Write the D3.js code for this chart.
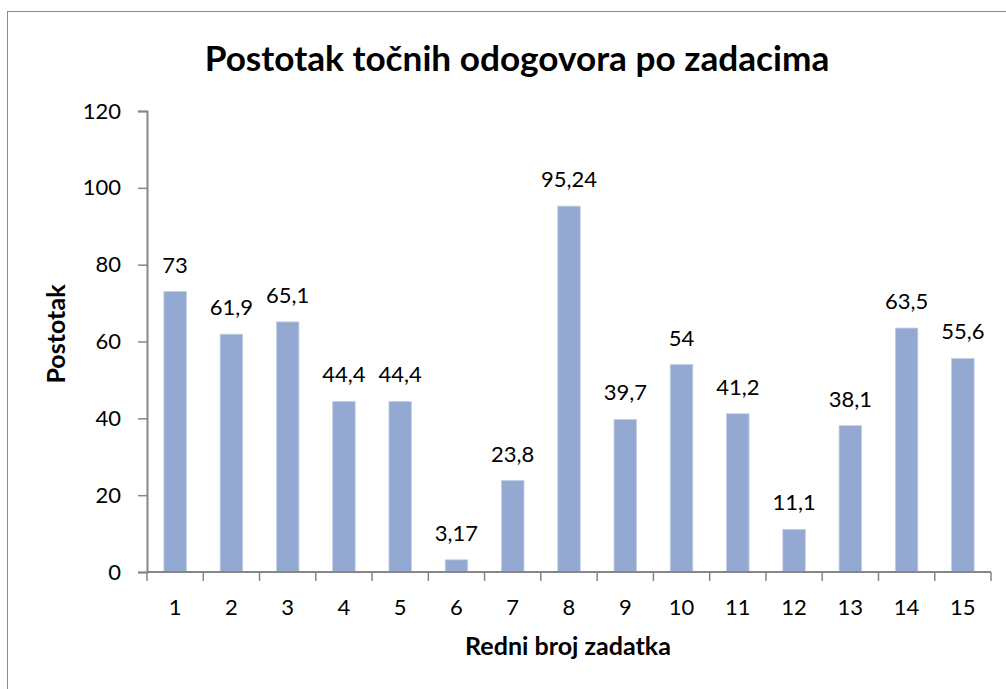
<!DOCTYPE html>
<html>
<head>
<meta charset="utf-8">
<script src="https://cdn.jsdelivr.net/npm/d3@7"></script>
<style>
  body { margin: 0; background: #fff; }
  svg { display: block; }
</style>
</head>
<body>
<div id="chart"></div>
<script>
const categories = ['1','2','3','4','5','6','7','8','9','10','11','12','13','14','15']
const values = [73, 61.9, 65.1, 44.4, 44.4, 3.17, 23.8, 95.24, 39.7, 54, 41.2, 11.1, 38.1, 63.5, 55.6]
const valueLabels = ['73','61,9','65,1','44,4','44,4','3,17','23,8','95,24','39,7','54','41,2','11,1','38,1','63,5','55,6']
const yTicks = [0, 20, 40, 60, 80, 100, 120]

const W = 1006, H = 689
const font = 'Lato, "Open Sans", sans-serif'
const margin = {top: 111, left: 147, right: W - 991, bottom: H - 572}
const width = W - margin.left - margin.right,
      height = H - margin.top - margin.bottom

const svg = d3.select('#chart').append('svg')
  .attr('width', W)
  .attr('height', H)

// outer chart frame
svg.append('rect')
  .attr('x', 7.5).attr('y', 11.5)
  .attr('width', 1100).attr('height', 800)
  .attr('fill', 'none')
  .attr('stroke', '#8a8a8a')
  .attr('stroke-width', 1)

const g = svg.append('g')
  .attr('transform', 'translate(' + margin.left + ',' + margin.top + ')')

const x = d3.scaleBand().domain(categories).range([0, width]).paddingInner(0).paddingOuter(0)
const y = d3.scaleLinear().domain([0, 120]).range([height, 0])

const barW = x.bandwidth() * 0.4

// bars
g.selectAll('rect.bar')
  .data(values)
  .enter()
  .append('rect')
    .attr('class', 'bar')
    .attr('x', (d, i) => x(categories[i]) + (x.bandwidth() - barW) / 2)
    .attr('y', d => y(d))
    .attr('width', barW)
    .attr('height', d => height - y(d))
    .attr('fill', '#94a9d2')
    .attr('stroke', '#c3cfe7')
    .attr('stroke-width', 0.8)

// data labels
g.selectAll('text.lbl')
  .data(values)
  .enter()
  .append('text')
    .attr('class', 'lbl')
    .attr('x', (d, i) => x(categories[i]) + x.bandwidth() / 2)
    .attr('y', d => y(d) - 19)
    .attr('text-anchor', 'middle')
    .style('font-family', font)
    .style('font-size', '22px')
    .attr('fill', '#000')
    .text((d, i) => valueLabels[i])

// y axis
const yAxis = g.append('g')
  .call(d3.axisLeft(y).tickValues(yTicks).tickSize(9).tickPadding(17))
yAxis.select('.domain').attr('stroke', '#868686').attr('stroke-width', 2)
yAxis.selectAll('.tick line').attr('stroke', '#868686').attr('stroke-width', 1.5)
yAxis.selectAll('.tick text')
  .style('font-family', font).style('font-size', '22px').attr('fill', '#000')

// x axis: ticks on category boundaries
const xAxis = g.append('g')
  .attr('transform', 'translate(0,' + height + ')')
xAxis.append('line')
  .attr('x1', 0).attr('x2', width)
  .attr('stroke', '#868686').attr('stroke-width', 2)
const bounds = categories.map(c => x(c)).concat([width])
xAxis.selectAll('line.tk')
  .data(bounds)
  .enter()
  .append('line')
    .attr('class', 'tk')
    .attr('x1', d => d).attr('x2', d => d)
    .attr('y1', 0).attr('y2', 9)
    .attr('stroke', '#868686').attr('stroke-width', 1.5)
xAxis.selectAll('text')
  .data(categories)
  .enter()
  .append('text')
    .attr('x', d => x(d) + x.bandwidth() / 2)
    .attr('y', 43)
    .attr('text-anchor', 'middle')
    .style('font-family', font)
    .style('font-size', '22px')
    .text(d => d)

// fit a bold text to a measured width
function fitText(sel, target) {
  const w = sel.node().getComputedTextLength()
  const fs = parseFloat(sel.style('font-size'))
  sel.style('font-size', (fs * target / w) + 'px')
}

const title = svg.append('text')
  .attr('x', 517).attr('y', 71)
  .attr('text-anchor', 'middle')
  .style('font-family', font).style('font-weight', 'bold').style('font-size', '30px')
  .text('Postotak točnih odogovora po zadacima')
fitText(title, 625)

const xTitle = svg.append('text')
  .attr('x', 568).attr('y', 655)
  .attr('text-anchor', 'middle')
  .style('font-family', font).style('font-weight', 'bold').style('font-size', '20px')
  .text('Redni broj zadatka')
fitText(xTitle, 206)

svg.append('text')
  .attr('transform', 'translate(65,334) rotate(-90)')
  .attr('text-anchor', 'middle')
  .style('font-family', font).style('font-weight', 'bold')
  .style('font-size', xTitle.style('font-size'))
  .text('Postotak')
</script>
</body>
</html>
